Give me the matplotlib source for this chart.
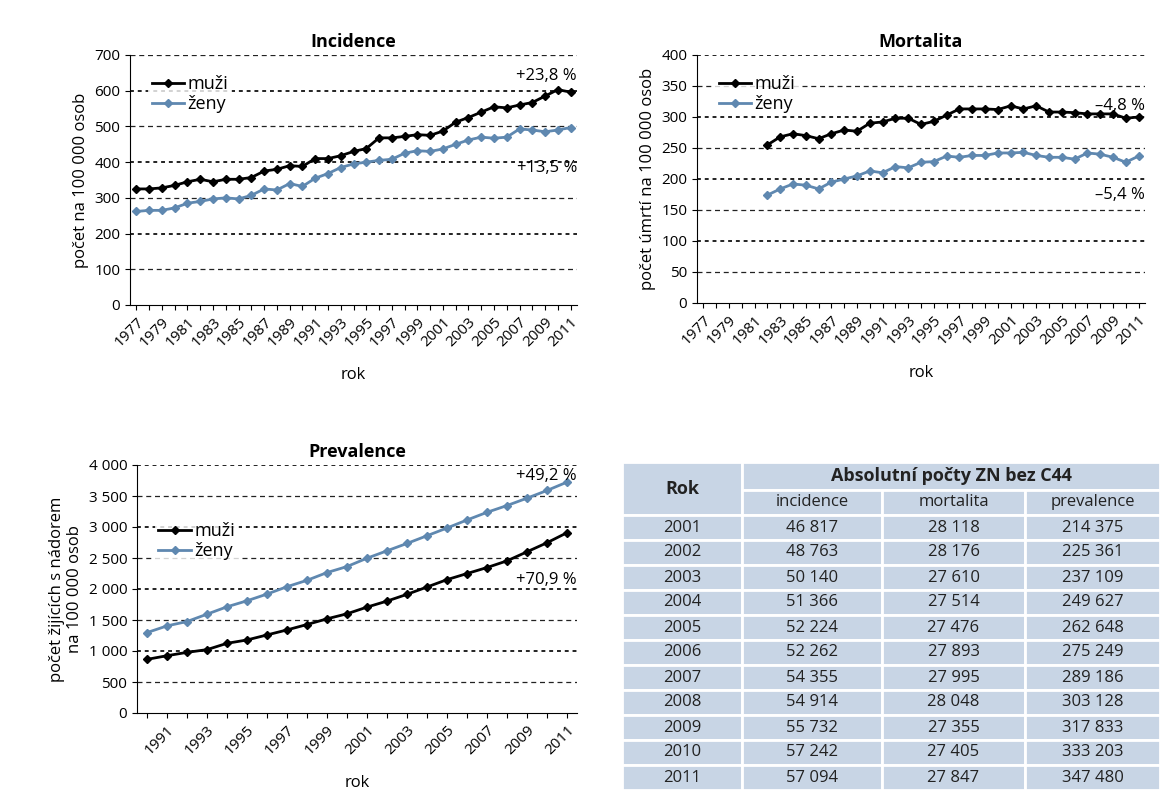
import matplotlib
matplotlib.use("Agg")
import matplotlib.pyplot as plt
from matplotlib.patches import Rectangle

plt.rcParams['font.family'] = ['Open Sans', 'DejaVu Sans']

inc_years = list(range(1977, 2012))
inc_men = [325,325,328,335,345,352,345,352,352,357,375,380,390,388,410,410,418,430,438,468,468,472,477,475,487,512,525,540,555,552,560,567,585,603,596]
inc_women = [262,265,265,272,285,290,297,300,297,307,325,322,340,332,355,368,385,395,400,405,408,425,432,430,437,450,462,470,467,470,493,490,485,490,497]

mort_years = list(range(1982, 2012))
mort_men = [255,268,273,270,265,273,279,277,290,292,298,298,288,293,303,313,313,313,312,318,313,318,308,308,307,305,305,305,298,300]
mort_women = [174,184,192,190,184,195,200,205,213,210,220,218,227,228,237,235,238,238,242,242,243,238,235,235,232,242,240,235,227,237]

prev_years = list(range(1990, 2012))
prev_men = [865,924,978,1022,1124,1178,1259,1340,1427,1519,1600,1708,1805,1914,2032,2151,2249,2346,2454,2600,2746,2908]
prev_women = [1297,1405,1475,1594,1713,1810,1918,2037,2140,2265,2362,2497,2616,2735,2859,2984,3113,3237,3346,3465,3589,3724]

tab_years = ["2001","2002","2003","2004","2005","2006","2007","2008","2009","2010","2011"]
tab_inc = ["46 817","48 763","50 140","51 366","52 224","52 262","54 355","54 914","55 732","57 242","57 094"]
tab_mort = ["28 118","28 176","27 610","27 514","27 476","27 893","27 995","28 048","27 355","27 405","27 847"]
tab_prev = ["214 375","225 361","237 109","249 627","262 648","275 249","289 186","303 128","317 833","333 203","347 480"]

W, H = 1172, 800
fig = plt.figure(figsize=(W/100, H/100), dpi=100)
BLUE = '#5f88b0'

def ax_px(x0, y0, x1, y1):
    return fig.add_axes([x0/W, 1-y1/H, (x1-x0)/W, (y1-y0)/H])

def style(ax, years, ylim, step, ylabel, title, label_years, yfmt=None):
    ax.set_xlim(years[0]-0.5, years[-1]+0.5)
    ax.set_ylim(0, ylim)
    ticks = list(range(0, ylim+1, step))
    ax.set_yticks(ticks)
    if yfmt:
        ax.set_yticklabels([yfmt(t) for t in ticks])
    for i, t in enumerate(ticks[1:]):
        ls = (0, (2, 2)) if i % 2 else (0, (4, 3))
        ax.axhline(t, color='#222', lw=1.4 if i % 2 else 0.9, ls=ls, zorder=0)
    ax.set_xticks(years)
    ax.set_xticklabels([str(y) if y in label_years else '' for y in years], rotation=45, ha='right', rotation_mode='anchor', fontsize=11)
    ax.tick_params(axis='y', labelsize=11)
    for s in ['top', 'right']:
        ax.spines[s].set_visible(False)
    ax.set_ylabel(ylabel, fontsize=12)
    ax.set_xlabel('rok', fontsize=12, labelpad=12)
    ax.set_title(title, fontsize=13, fontweight='bold')

def lines(ax, years, m, w):
    ax.plot(years, m, color='black', marker='D', ms=4, lw=2, label='muži')
    ax.plot(years, w, color=BLUE, marker='D', ms=4, lw=2, label='ženy')

# Incidence
ax1 = ax_px(130, 55, 577, 305)
lines(ax1, inc_years, inc_men, inc_women)
style(ax1, inc_years, 700, 100, 'počet na 100 000 osob', 'Incidence', inc_years[::2])
ax1.legend(loc='upper left', bbox_to_anchor=(0.02, 0.97), frameon=True, edgecolor='none', fontsize=13,
           handlelength=1.8, handletextpad=0.2, borderpad=0.2, labelspacing=0.1)
ax1.text(1.0, 0.90, '+23,8 %', transform=ax1.transAxes, ha='right', fontsize=12)
ax1.text(1.0, 0.53, '+13,5 %', transform=ax1.transAxes, ha='right', fontsize=12)

# Mortalita
mort_all = list(range(1977, 2012))
ax2 = ax_px(697, 55, 1145, 303)
lines(ax2, mort_years, mort_men, mort_women)
style(ax2, mort_all, 400, 50, 'počet úmrtí na 100 000 osob', 'Mortalita', mort_all[::2])
ax2.legend(loc='upper left', bbox_to_anchor=(0.02, 0.97), frameon=True, edgecolor='none', fontsize=13,
           handlelength=1.8, handletextpad=0.2, borderpad=0.2, labelspacing=0.1)
ax2.text(1.0, 0.78, '–4,8 %', transform=ax2.transAxes, ha='right', fontsize=12)
ax2.text(1.0, 0.42, '–5,4 %', transform=ax2.transAxes, ha='right', fontsize=12)

# Prevalence
ax3 = ax_px(137, 465, 577, 713)
lines(ax3, prev_years, prev_men, prev_women)
style(ax3, prev_years, 4000, 500, 'počet žijících s nádorem\nna 100 000 osob', 'Prevalence',
      [y for y in prev_years if y % 2 == 1], yfmt=lambda t: f'{t:,}'.replace(',', ' '))
ax3.legend(loc='upper left', bbox_to_anchor=(0.02, 0.82), frameon=True, edgecolor='none', fontsize=13,
           handlelength=1.8, handletextpad=0.2, borderpad=0.2, labelspacing=0.1)
ax3.text(1.0, 0.94, '+49,2 %', transform=ax3.transAxes, ha='right', fontsize=12)
ax3.text(1.0, 0.52, '+70,9 %', transform=ax3.transAxes, ha='right', fontsize=12)

# Table
tax = fig.add_axes([0, 0, 1, 1])
tax.set_xlim(0, W); tax.set_ylim(H, 0); tax.axis('off')
CELL = '#c8d5e5'
cols = [622, 742, 882, 1025, 1160]
def cell(x0, x1, y0, y1, txt, bold=False, fs=12):
    tax.add_patch(Rectangle((x0, y0), x1-x0, y1-y0, facecolor=CELL, edgecolor='white', lw=2))
    tax.text((x0+x1)/2, (y0+y1)/2, txt, ha='center', va='center', fontsize=fs,
             fontweight='bold' if bold else 'normal', color='#222')
cell(cols[0], cols[1], 462, 515, 'Rok', bold=True, fs=13)
cell(cols[1], cols[4], 462, 490, 'Absolutní počty ZN bez C44', bold=True, fs=13)
for i, h in enumerate(['incidence', 'mortalita', 'prevalence']):
    cell(cols[i+1], cols[i+2], 490, 515, h)
rh = (790-515)/len(tab_years)
for r in range(len(tab_years)):
    y0 = 515 + r*rh
    for c, v in enumerate([tab_years[r], tab_inc[r], tab_mort[r], tab_prev[r]]):
        cell(cols[c], cols[c+1], y0, y0+rh, v)

fig.savefig('out.png', dpi=100)
